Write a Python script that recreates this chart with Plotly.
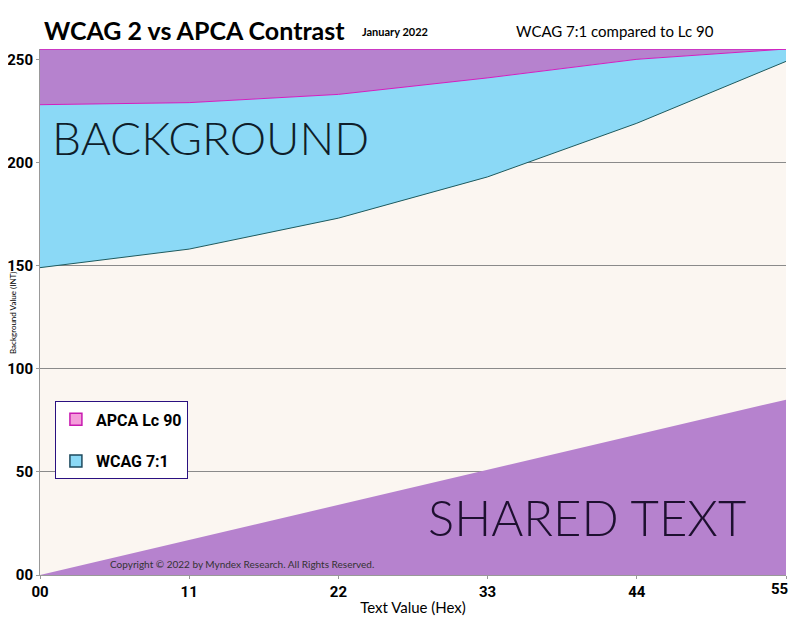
import plotly.graph_objects as go

x_hex_labels = ["00", "11", "22", "33", "44", ""]
last_x_label = "55"
x_vals = [0, 17, 34, 51, 68, 85]
shared_text = [0, 17, 34, 51, 68, 85]
wcag_7 = [149, 158, 173, 193, 219, 249]
apca_lc90 = [228, 229, 233, 241, 250, 255]
top_val = [255, 255, 255, 255, 255, 255]
y_ticks = [0, 50, 100, 150, 200, 250]
y_tick_labels = ["00", "50", "100", "150", "200", "250"]

PURPLE = "#B682CE"
BLUE = "#8BD9F6"
BG = "#FBF6F1"

fig = go.Figure()
fig.add_trace(go.Scatter(x=x_vals, y=shared_text, mode="lines", line=dict(width=0, color=PURPLE),
                         fill="tozeroy", fillcolor=PURPLE, showlegend=False, hoverinfo="skip"))
fig.add_trace(go.Scatter(x=x_vals, y=wcag_7, mode="lines", line=dict(width=1, color="#1E5A5E"),
                         showlegend=False))
fig.add_trace(go.Scatter(x=x_vals, y=apca_lc90, mode="lines", line=dict(width=1, color="#D21FC0"),
                         fill="tonexty", fillcolor=BLUE, showlegend=False))
fig.add_trace(go.Scatter(x=x_vals, y=top_val, mode="lines", line=dict(width=1.5, color="#D21FC0"),
                         fill="tonexty", fillcolor=PURPLE, showlegend=False))
# legend entries
fig.add_trace(go.Scatter(x=[None], y=[None], mode="markers", name="APCA Lc 90", legendgroup="a",
                         marker=dict(symbol="square", size=12, color="#F49DDA",
                                     line=dict(color="#C81AB0", width=1.5))))
fig.add_trace(go.Scatter(x=[None], y=[None], mode="markers", name="WCAG 7:1", legendgroup="b",
                         marker=dict(symbol="square", size=12, color=BLUE,
                                     line=dict(color="#1E4A5E", width=1.5))))

# The page body has an 8px margin, so the figure is sized/offset to compensate.
fig.update_layout(
    width=782, height=610,
    margin=dict(l=32, r=4, t=41, b=43),
    paper_bgcolor="white", plot_bgcolor=BG,
    font=dict(family="Roboto, sans-serif", color="black"),
    showlegend=True,
    legend=dict(x=0.02, y=0.33, xanchor="left", yanchor="top", bgcolor="white",
                bordercolor="#2A1080", borderwidth=1, tracegroupgap=18,
                font=dict(size=16, family="Roboto", weight="bold"), itemwidth=30),
    xaxis=dict(range=[0, 85], tickvals=x_vals, ticktext=x_hex_labels, showgrid=False,
               showline=True, linecolor="#999999", linewidth=1, ticks="outside", ticklen=3,
               tickcolor="#999999", tickfont=dict(size=15, family="Roboto", weight="bold"),
               title=dict(text="Text Value (Hex)", font=dict(size=15, family="Lato"), standoff=2),
               zeroline=False, automargin=False),
    yaxis=dict(range=[0, 255], tickvals=y_ticks, ticktext=y_tick_labels, showgrid=True,
               gridcolor="#8A8A8A", gridwidth=1, showline=True, linecolor="#999999",
               ticks="outside", ticklen=3, tickcolor="#999999",
               tickfont=dict(size=15, family="Roboto", weight="bold"),
               zeroline=False, automargin=False),
)


def pa(text, px, py, size, family="Lato", anchor="left", weight=None, color="black", angle=0):
    # px, py: pixel position on the page, converted to plot-area paper fractions
    xp = (px - 40) / 746
    yp = (575 - py) / 526
    f = dict(size=size, family=family, color=color)
    if weight:
        f["weight"] = weight
    fig.add_annotation(x=xp, y=yp, xref="paper", yref="paper", text=text, showarrow=False,
                       xanchor=anchor, yanchor="middle", font=f, textangle=angle)

pa("<b>WCAG 2 vs APCA Contrast</b>", 42, 30, 25)
pa("<b>January 2022</b>", 360, 31, 11)
pa("WCAG 7:1 compared to Lc 90", 514, 31, 15)
pa("BACKGROUND", 50, 138, 46, weight=300, color="#0F1E2A")
pa("SHARED TEXT", 426, 517, 49, weight=300, color="#1E1030")
pa("Copyright © 2022 by Myndex Research. All Rights Reserved.", 108, 564, 10, color="#333333")
pa("Background Value (INT)", 13, 313, 8, anchor="center", angle=-90)
pa(last_x_label, 790, 589, 15, family="Roboto", anchor="right", weight="bold")

fig.write_html("out.html")
